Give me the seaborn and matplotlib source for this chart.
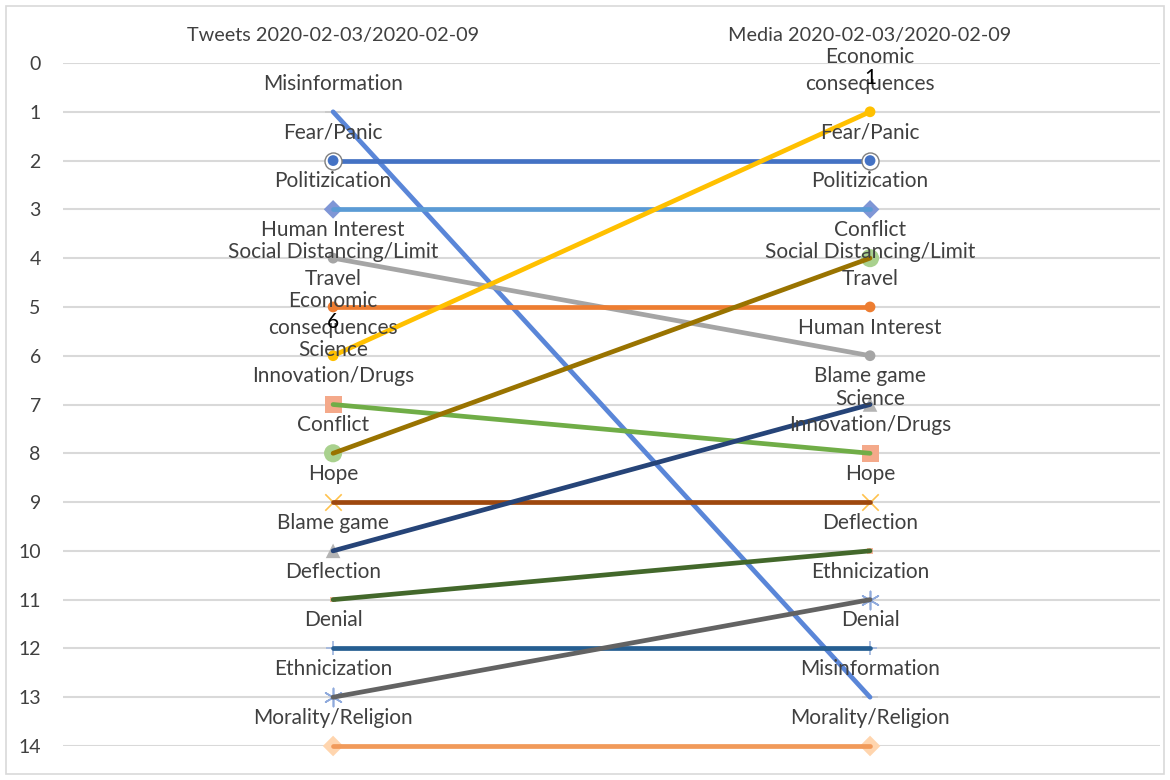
import numpy as np
import pandas as pd
import matplotlib.pyplot as plt
import seaborn as sns
from matplotlib.patches import Rectangle

# ranks of each framing topic, tweets vs media, week 2020-02-03/2020-02-09
periods = ["Tweets 2020-02-03/2020-02-09", "Media 2020-02-03/2020-02-09"]
topics = ["Misinformation", "Fear/Panic", "Politizication", "Human Interest",
          "Social Distancing/Limit\nTravel", "Economic\nconsequences",
          "Science\nInnovation/Drugs", "Conflict", "Hope", "Blame game",
          "Deflection", "Denial", "Ethnicization", "Morality/Religion"]
tweets_rank = [1, 2, 3, 4, 5, 6, 7, 8, 9, 10, 11, 12, 13, 14]
media_rank = [13, 2, 3, 6, 5, 1, 8, 4, 9, 7, 10, 12, 11, 14]
# the only numeric data labels shown in the original
value_topic = "Economic\nconsequences"
rank_ticks = list(range(0, 15))

# styles
line_colors = ["#5A86D8", "#4472C4", "#5B9BD5", "#A5A5A5", "#ED7D31", "#FFC000",
               "#70AD47", "#997300", "#9E480E", "#264478", "#43682B", "#255E91",
               "#636363", "#F19A5A"]
marker_styles = ["_", "o", "D", "o", "o", "o", "s", "o", "x", "^", "s", "+",
                 (6, 2, 0), "D"]
marker_colors = ["#C8C8C8", "#4472C4", "#7F96D6", "#A5A5A5", "#ED7D31", "#FFC000",
                 "#F4A98A", "#A9D18E", "#FFC24D", "#B4B4B4", "#F8B9A0", "#9DB4DE",
                 "#8FAADC", "#FFD5AE"]
marker_sizes = [120, 70, 90, 60, 60, 60, 150, 170, 140, 110, 15, 110, 170, 110]
text_color = "#404040"

df = pd.DataFrame({
    "topic": topics * 2,
    "pos": [0] * len(topics) + [1] * len(topics),
    "rank": tweets_rank + media_rank,
})

sns.set_theme(style="white")
plt.rcParams["font.family"] = ["Lato", "DejaVu Sans"]

fig = plt.figure(figsize=(11.7, 7.8), dpi=100)
ax = fig.add_axes([63 / 1170, 1 - 746 / 780, (1160 - 63) / 1170, (746 - 63) / 780])

# markers below the lines, like the original
for i, t in enumerate(topics):
    sub = df[df["topic"] == t]
    filled = marker_styles[i] not in ["_", "x", "+"] and not isinstance(marker_styles[i], tuple)
    if filled:
        ax.scatter(sub["pos"], sub["rank"], marker=marker_styles[i], s=marker_sizes[i],
                   color=marker_colors[i], edgecolors="none", zorder=2, clip_on=False)
    else:
        ax.scatter(sub["pos"], sub["rank"], marker=marker_styles[i], s=marker_sizes[i],
                   color=marker_colors[i], linewidths=1.2, zorder=2, clip_on=False)

sns.lineplot(data=df, x="pos", y="rank", hue="topic", hue_order=topics,
             palette=dict(zip(topics, line_colors)), units="topic", estimator=None,
             sort=False, lw=3.4, legend=False, ax=ax, zorder=3)
for ln in ax.lines:
    ln.set_clip_on(False)
    ln.set_solid_capstyle("round")

# Fear/Panic marker has a white and grey ring
fp = df[df["topic"] == "Fear/Panic"]
ax.scatter(fp["pos"], fp["rank"], s=150, color="white", edgecolors="#7F7F7F",
           linewidths=1, zorder=4)
ax.scatter(fp["pos"], fp["rank"], s=60, color="#4472C4", edgecolors="none", zorder=5)

# category labels above every point
for _, row in df.iterrows():
    ax.annotate(row["topic"], (row["pos"], row["rank"]), xytext=(0, 13),
                textcoords="offset points", ha="center", va="bottom",
                fontsize=15, color=text_color, linespacing=1.42, zorder=6)

for pos, rank in [(0, tweets_rank[topics.index(value_topic)]),
                  (1, media_rank[topics.index(value_topic)])]:
    ax.annotate(str(rank), (pos, rank), xytext=(0, 17), textcoords="offset points",
                ha="center", va="bottom", fontsize=15, color="black", zorder=6)

ax.set_xlim(-0.503, 1.54)
ax.set_ylim(14, 0)
ax.set_yticks(rank_ticks)
ax.set_yticklabels([str(r) for r in rank_ticks], fontsize=14, color=text_color)
ax.set_xticks([0, 1])
ax.set_xticklabels(periods, fontsize=14.3, color=text_color)
ax.xaxis.tick_top()
ax.tick_params(axis="x", length=0, pad=14)
ax.tick_params(axis="y", length=0, pad=16)
ax.set_xlabel("")
ax.set_ylabel("")
ax.yaxis.grid(True, color="#D9D9D9", lw=1.5)
ax.xaxis.grid(False)
for s in ax.spines.values():
    s.set_visible(False)

fig.patches.append(Rectangle((6 / 1170, 6 / 780), 1158 / 1170, 768 / 780,
                             transform=fig.transFigure, fill=False,
                             edgecolor="#D9D9D9", lw=1.2))

fig.savefig("out.png", dpi=100)
